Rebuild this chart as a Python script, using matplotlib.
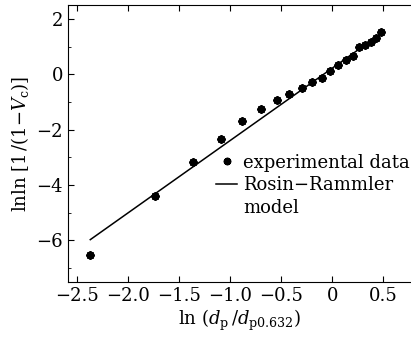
import numpy as np
import matplotlib.pyplot as plt
from matplotlib.ticker import MultipleLocator
from matplotlib.lines import Line2D

plt.rcParams['font.family'] = 'DejaVu Serif'
plt.rcParams['mathtext.fontset'] = 'dejavuserif'

# experimental points, ln(dp/dp0.632) vs lnln[1/(1-Vc)]
exp_x = [-2.37, -1.74, -1.36, -1.095, -0.88, -0.70, -0.54, -0.42, -0.30, -0.196,
         -0.105, -0.02, 0.06, 0.134, 0.20, 0.265, 0.32, 0.38, 0.43, 0.48]
exp_y = [-6.51, -4.41, -3.17, -2.32, -1.69, -1.26, -0.94, -0.72, -0.51, -0.28,
         -0.135, 0.11, 0.34, 0.51, 0.68, 0.98, 1.07, 1.18, 1.32, 1.54]

# Rosin-Rammler fit line
model_x = [-2.37, 0.48]
model_y = [-5.97, 1.48]

fig = plt.figure(figsize=(4.11, 3.41), dpi=100)
ax = fig.add_axes([0.165, 0.173, 0.835, 0.812])

line, = ax.plot(model_x, model_y, '-', color='black', lw=1.1)
pts, = ax.plot(exp_x, exp_y, ls='none', marker=(8, 2, 0), ms=6, mew=1.5, color='black')

ax.set_xlim(-2.59, 0.77)
ax.set_ylim(-7.5, 2.5)
ax.set_xticks([-2.5, -2.0, -1.5, -1.0, -0.5, 0, 0.5])
ax.set_xticklabels(['\u22122.5', '\u22122.0', '\u22121.5', '\u22121.0', '\u22120.5', '0', '0.5'])
ax.set_yticks([-6, -4, -2, 0, 2])
ax.set_yticklabels(['\u22126', '\u22124', '\u22122', '0', '2'])
ax.yaxis.set_minor_locator(MultipleLocator(1))
ax.tick_params(which='both', direction='in', top=True, right=False, labelsize=13)
ax.tick_params(which='major', length=4)
ax.tick_params(which='minor', length=2.5)
ax.spines['right'].set_visible(False)

ax.set_xlabel(r'ln $(d_{\rm p}\,/d_{\rm p0.632})$', fontsize=13, labelpad=2)
ax.set_ylabel(r'lnln $[1\,/(1{-}V_{\rm c})]$', fontsize=13, labelpad=4)

blank = Line2D([], [], ls='none')
ax.legend([pts, line, blank], ['experimental data', 'Rosin\u2212Rammler', 'model'],
          loc='upper left', bbox_to_anchor=(0.41, 0.49), frameon=False,
          fontsize=13, handlelength=1.2, handletextpad=0.3, borderaxespad=0,
          labelspacing=0.25, markerscale=0.9)

fig.savefig('out.png', dpi=100)
